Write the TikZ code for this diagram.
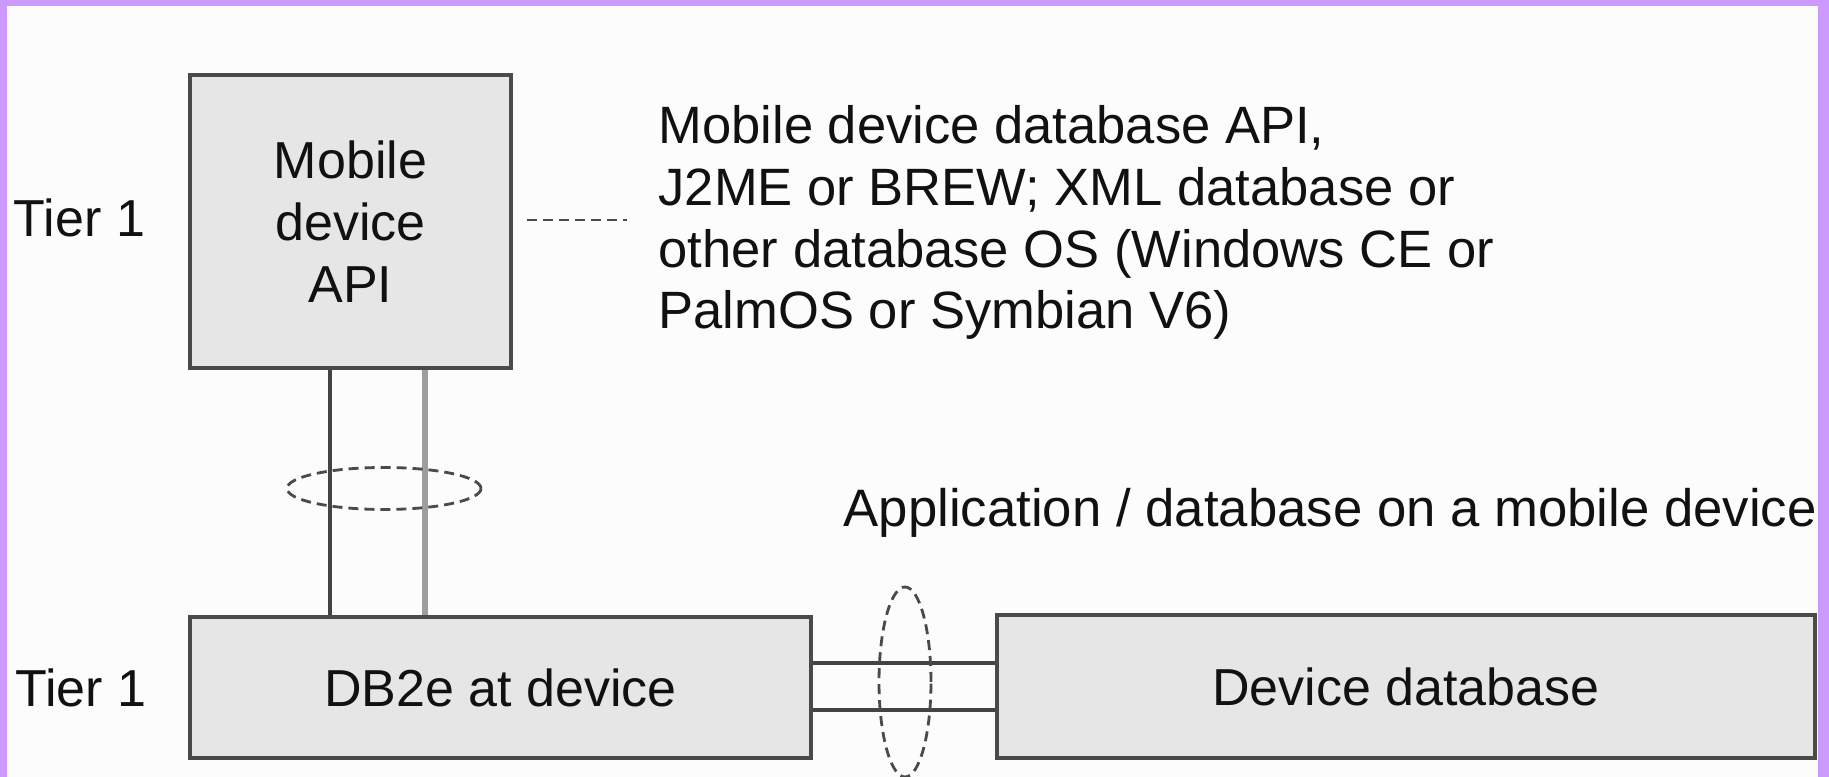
\documentclass[tikz,border=0pt]{standalone}
\usepackage{fontspec}
\setmainfont{Liberation Sans}
\usetikzlibrary{calc}
\definecolor{frame}{HTML}{CC99FF}
\definecolor{boxfill}{HTML}{E6E6E6}
\definecolor{boxline}{HTML}{4A4A4A}
\definecolor{txt}{HTML}{111111}
\tikzset{
  boxnode/.style={draw=boxline, fill=boxfill, line width=1.2pt, inner sep=0pt, text=txt, align=center},
  lbl/.style={inner sep=0pt, text=txt},
  link/.style={draw=boxline!90!black, line width=1pt},
  lightlink/.style={draw=black!38, line width=1.6pt},
  ring/.style={draw=boxline, line width=0.8pt, dash pattern=on 0.1cm off 0.06cm},
}
\begin{document}
\begin{tikzpicture}[font=\fontsize{14.8}{17.6}\selectfont]
\useasboundingbox (0,0) rectangle (18.29,7.77);
\fill[white!99!black] (0,0) rectangle (18.29,7.77);

% boxes
\node[boxnode, minimum width=3.21cm, minimum height=2.93cm] (api) at (3.505,5.555) {Mobile\\device\\API};
\node[boxnode, minimum width=6.21cm, minimum height=1.41cm] (db2e) at (5.005,0.895) {DB2e at device};
\node[boxnode, minimum width=8.18cm, minimum height=1.43cm] (devdb) at (14.06,0.905) {Device database};

% labels
\node[lbl] (tier1a) at (0.795,5.59) {Tier 1};
\node[lbl] (tier1b) at (0.81,0.89) {Tier 1};
\node[lbl, anchor=west, align=left, font=\fontsize{14.95}{17.6}\selectfont] (note) at (6.58,5.545) {Mobile device database API,\\J2ME or BREW; XML database or\\other database OS (Windows CE or\\PalmOS or Symbian V6)};
\node[lbl, anchor=west, font=\fontsize{15.0}{18}\selectfont] (app) at (8.43,2.64) {Application / database on a mobile device};

% dashed leader
\draw[boxline, line width=0.8pt, dash pattern=on 0.1cm off 0.06cm] ([xshift=0.14cm]api.east |- 0,5.57) -- ([xshift=-0.31cm]note.west |- 0,5.57);

% vertical links
\coordinate (v1) at (3.30,0);
\coordinate (v2) at (4.25,0);
\draw[link] (v1 |- api.south) -- (v1 |- db2e.north);
\draw[lightlink] (v2 |- api.south) -- (v2 |- db2e.north);

% horizontal links
\coordinate (h1) at (0,1.14);
\coordinate (h2) at (0,0.67);
\draw[link] (db2e.east |- h1) -- (devdb.west |- h1);
\draw[link] (db2e.east |- h2) -- (devdb.west |- h2);

% dashed rings
\draw[ring] (3.84,2.885) ellipse [x radius=0.97cm, y radius=0.21cm];
\draw[ring] (9.05,0.95) ellipse [x radius=0.26cm, y radius=0.95cm];

% purple frame
\fill[frame] (0,7.71) rectangle (18.29,7.77);
\fill[frame] (0,0) rectangle (0.075,7.77);
\fill[frame] (18.18,0) rectangle (18.29,7.77);
\end{tikzpicture}
\end{document}
